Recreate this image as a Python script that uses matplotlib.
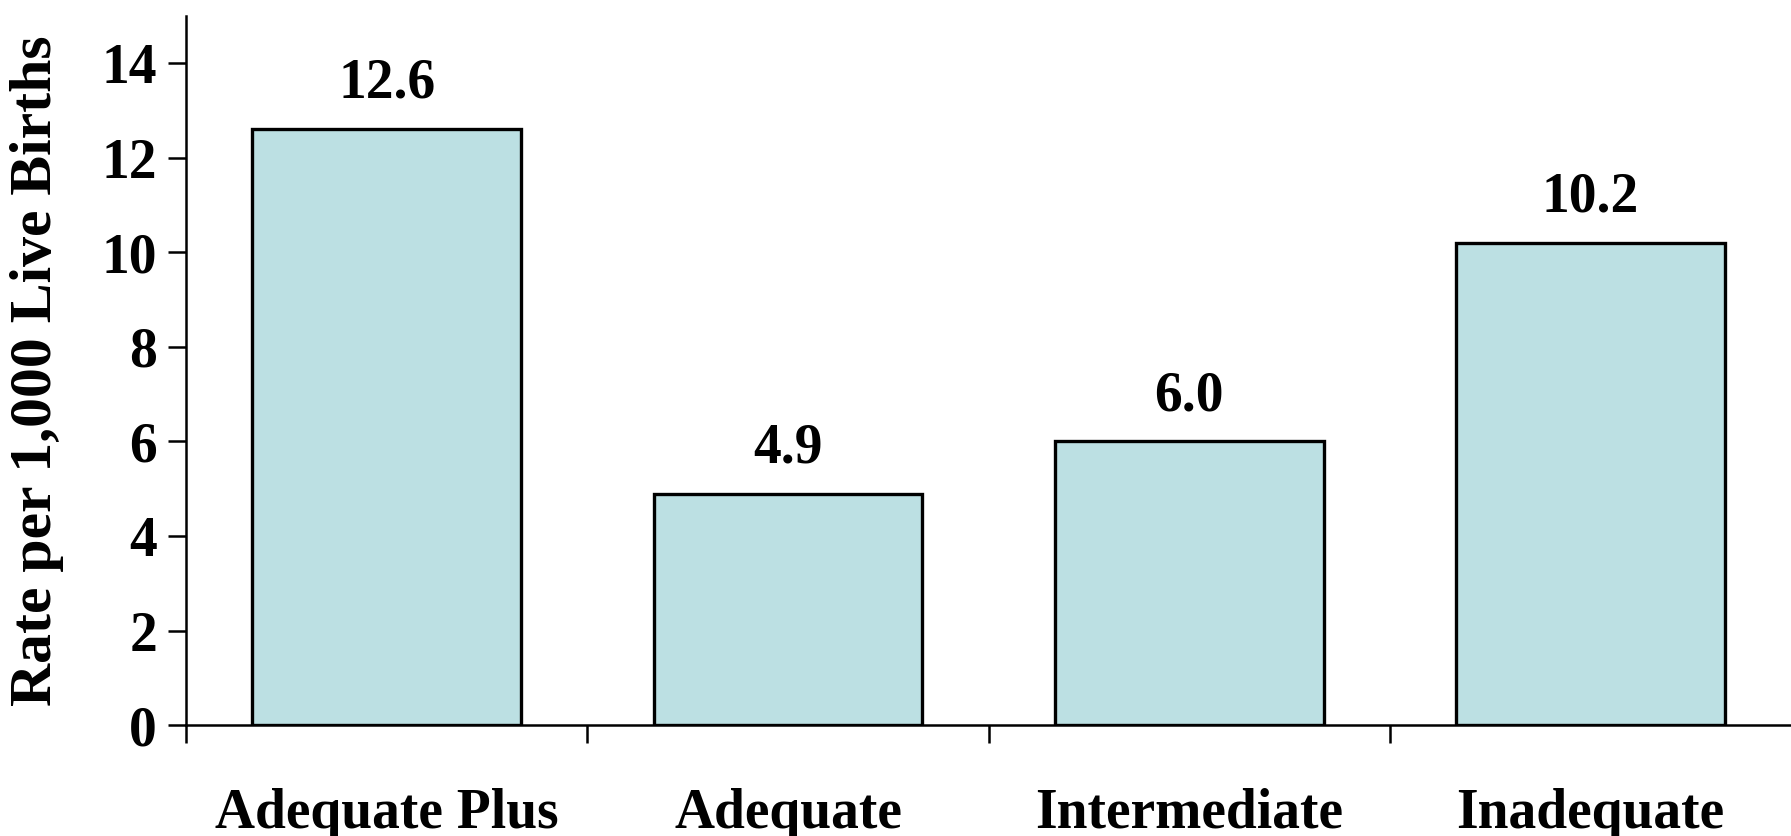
import matplotlib.pyplot as plt
import numpy as np

# Rate per 1,000 live births by care adequacy
categorias = ['Adequate Plus', 'Adequate', 'Intermediate', 'Inadequate']
tasas = [12.6, 4.9, 6.0, 10.2]
etiquetas = ['12.6', '4.9', '6.0', '10.2']

plt.rcParams['font.family'] = ['Liberation Serif', 'DejaVu Serif']
plt.rcParams['font.weight'] = 'bold'

fig = plt.figure(figsize=(17.91, 8.36), dpi=100)
ax = fig.add_axes([0.104, 0.1325, 0.896, 0.8485])

x = np.arange(len(categorias))
barras = ax.bar(x, tasas, width=0.67, color='#bce0e3', edgecolor='black', linewidth=2.4)

for xi, v, t in zip(x, tasas, etiquetas):
    ax.annotate(t, (xi, v), xytext=(0, 14), textcoords='offset points',
                ha='center', va='bottom', fontsize=40, fontweight='bold')

ax.set_xlim(-0.5, 3.5)
ax.set_ylim(0, 15)
ax.set_yticks(range(0, 15, 2))
ax.set_xticks(x)
ax.set_xticklabels(categorias, fontsize=40, fontweight='bold')
ax.set_xticks([-0.5, 0.5, 1.5, 2.5], minor=True)
ax.tick_params(axis='x', which='major', length=0, pad=45)
ax.tick_params(axis='x', which='minor', length=13, width=1.8, direction='out')
ax.tick_params(axis='y', length=13, width=1.8, direction='out', pad=8, labelsize=40)
for lbl in ax.get_yticklabels():
    lbl.set_fontweight('bold')

ax.spines['top'].set_visible(False)
ax.spines['right'].set_visible(False)
ax.spines['left'].set_linewidth(1.8)
ax.spines['bottom'].set_linewidth(1.8)

ax.set_ylabel('Rate per 1,000 Live Births', fontsize=43, fontweight='bold')
ax.yaxis.set_label_coords(-0.076, 0.5)

fig.savefig('out.png', dpi=100)
